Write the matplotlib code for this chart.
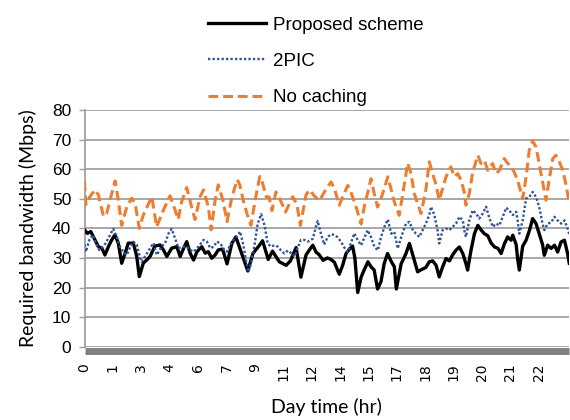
import matplotlib
matplotlib.use("Agg")
import matplotlib.pyplot as plt

# x tick labels (category axis, hours of day)
tick_labels = ["0", "1", "3", "4", "6", "7", "9", "11", "12", "14", "15",
               "17", "18", "19", "20", "21", "22"]

# No caching
nc_t = [0.00, 0.05, 0.19, 0.37, 0.49, 0.67, 0.78, 0.96, 1.08, 1.19, 1.31, 1.49,
        1.66, 1.78, 1.93, 2.07, 2.37, 2.54, 2.78, 3.01, 3.19, 3.30, 3.42, 3.60,
        3.77, 3.89, 4.07, 4.19, 4.36, 4.46, 4.60, 4.71, 4.87, 5.02, 5.19, 5.38,
        5.47, 5.59, 5.72, 5.86, 6.00, 6.17, 6.25, 6.40, 6.50, 6.60, 6.74, 6.90,
        7.08, 7.33, 7.48, 7.60, 7.80, 7.92, 8.09, 8.27, 8.44, 8.68, 8.80, 8.97,
        9.09, 9.27, 9.38, 9.56, 9.74, 9.85, 10.09, 10.20, 10.32, 10.44, 10.68,
        10.79, 10.91, 11.08, 11.20, 11.38, 11.50, 11.61, 11.73, 11.85, 12.02,
        12.14, 12.26, 12.38, 12.49, 12.61, 12.73, 12.90, 13.02, 13.14, 13.26,
        13.37, 13.43, 13.55, 13.67, 13.85, 13.96, 14.08, 14.20, 14.37, 14.49,
        14.61, 14.78, 14.90, 15.02, 15.13, 15.25, 15.43, 15.55, 15.66, 15.78,
        15.90, 16.01, 16.13, 16.25, 16.36, 16.49, 16.60, 16.72, 16.84, 16.95,
        17.05]
nc_v = [56, 48, 50.7, 53, 51.3, 44, 45, 51.8, 56, 49.6, 41, 47.3,
        50.2, 48.5, 40, 44.5, 50.7, 40.5, 46.2, 51, 46.2, 43, 49, 53.8,
        47.3, 43, 50.7, 53, 47.3, 39.5, 49.6, 54.7, 49.6, 42.3, 50.6, 56.5,
        54.6, 49.5, 45, 41, 49, 57.5, 56, 50.6, 50.6, 46, 52.3, 49.5,
        45.5, 50.7, 48, 41, 51.3, 53, 51, 49.3, 52.2, 55.7, 53.5, 47.8,
        50.6, 54.5, 52.3, 47.3, 41.5, 47.3, 56.8, 51.8, 47.2, 50, 57.4,
        53.4, 48.9, 44.4, 51.2, 62, 58.5, 51.8, 48.4, 45, 53,
        62.5, 58.5, 54.6, 49.5, 53.5, 57.4, 60.8, 57.5, 58.5, 56.3,
        52.3, 47.8, 51.8, 59, 64.7, 61.9, 63, 59.6, 61.9, 58.5,
        59.6, 63.6, 62, 60.8, 59, 56.3, 50, 57.4, 66.4, 69.5,
        67.5, 61.9, 55.7, 49.5, 56.3, 63.6, 64.7, 62.5, 59.6, 55,
        49.5]

# Proposed scheme
ps_t = [0.00, 0.10, 0.22, 0.37, 0.49, 0.61, 0.72, 0.84, 0.96, 1.07, 1.19, 1.31,
        1.43, 1.54, 1.72, 1.84, 1.93, 2.07, 2.19, 2.31, 2.48, 2.66, 2.78, 2.90,
        3.07, 3.25, 3.37, 3.49, 3.60, 3.72, 3.84, 3.96, 4.13, 4.25, 4.36, 4.48,
        4.60, 4.71, 4.86, 5.02, 5.19, 5.33, 5.45, 5.57, 5.75, 5.93, 6.16, 6.27,
        6.47, 6.62, 6.86, 7.10, 7.25, 7.45, 7.62, 7.80, 7.94, 8.04, 8.15, 8.27,
        8.40, 8.55, 8.68, 8.80, 8.97, 9.09, 9.21, 9.33, 9.44, 9.52, 9.62, 9.74,
        9.85, 9.98, 10.09, 10.20, 10.32, 10.44, 10.55, 10.67, 10.79, 10.91,
        10.98, 11.15, 11.32, 11.44, 11.56, 11.73, 11.85, 12.02, 12.14, 12.26,
        12.38, 12.49, 12.61, 12.73, 12.85, 12.96, 13.08, 13.20, 13.32, 13.43,
        13.49, 13.61, 13.73, 13.85, 13.96, 14.08, 14.20, 14.32, 14.44, 14.56,
        14.67, 14.79, 14.90, 15.02, 15.08, 15.20, 15.25, 15.31, 15.43, 15.55,
        15.67, 15.78, 15.90, 16.01, 16.13, 16.19, 16.31, 16.43, 16.55, 16.66,
        16.78, 16.90, 17.01, 17.07]
ps_v = [39.5, 38.3, 38.9, 36.1, 33.8, 33.3, 31, 33.8, 36.1, 37.8, 35, 28.2,
        31.6, 35, 35, 30.5, 23.7, 28.2, 29.3, 30.5, 34, 34.4, 32.7, 30.5,
        33.3, 33.8, 30.5, 33.3, 35.5, 31.6, 29.3, 32.1, 33.8, 31.6, 32.1, 29.9,
        31, 32.7, 33, 28, 35, 37.1, 33.8, 30.4, 25.6, 31.5, 34.3, 35.8,
        29.5, 32.3, 28.7, 27.5, 29, 33.5, 23.5, 31, 33, 34.3, 32, 31,
        29.2, 30, 29.5, 28.5, 24.5, 27.5, 31.5, 33, 34, 30, 18.3, 23.5,
        26, 28.7, 27, 25.9, 19.5, 22, 28, 31.5, 29, 27,
        19.5, 28, 31.5, 34.9, 31, 25.3, 26, 26.8, 28.7, 29,
        27.5, 23.6, 27, 29.8, 29, 31, 32.6, 33.7, 31.5, 28.1,
        25.9, 32.6, 38.2, 41, 39.5, 38.2, 37.5, 35, 33.7, 33.2,
        31.5, 34.9, 37.1, 36, 37.7, 34.5, 29.8, 25.9, 34, 36,
        39.4, 43.3, 41.6, 38.2, 34.5, 30.9, 34.3, 33.2, 34.3, 32,
        35.4, 36, 31.5, 28.2]

# 2PIC
pic_t = [0.00, 0.05, 0.17, 0.29, 0.40, 0.52, 0.64, 0.75, 0.87, 1.01, 1.13, 1.25,
         1.37, 1.49, 1.61, 1.72, 1.84, 1.96, 2.01, 2.13, 2.31, 2.43, 2.55, 2.72,
         2.84, 2.96, 3.07, 3.19, 3.31, 3.43, 3.60, 3.72, 3.84, 4.01, 4.19, 4.31,
         4.43, 4.55, 4.66, 4.78, 4.90, 5.02, 5.19, 5.36, 5.48, 5.60, 5.69, 5.77,
         5.86, 5.98, 6.10, 6.22, 6.34, 6.45, 6.57, 6.69, 6.81, 6.92, 7.04, 7.16,
         7.28, 7.40, 7.51, 7.62, 7.74, 7.86, 8.04, 8.15, 8.21, 8.33, 8.44, 8.56,
         8.68, 8.80, 8.91, 9.03, 9.15, 9.27, 9.38, 9.50, 9.62, 9.74, 9.86, 9.97,
         10.09, 10.21, 10.33, 10.44, 10.56, 10.68, 10.80, 10.91, 11.03, 11.15,
         11.32, 11.44, 11.56, 11.67, 11.79, 11.91, 12.02, 12.14, 12.20, 12.32,
         12.43, 12.49, 12.61, 12.73, 12.85, 12.96, 13.08, 13.20, 13.32, 13.37,
         13.43, 13.55, 13.67, 13.79, 13.90, 14.02, 14.14, 14.26, 14.38, 14.49,
         14.61, 14.73, 14.85, 14.96, 15.08, 15.20, 15.25, 15.31, 15.43, 15.55,
         15.66, 15.78, 15.90, 16.01, 16.13, 16.19, 16.31, 16.43, 16.55, 16.66,
         16.78, 16.90, 17.01, 17.07]
pic_v = [34.5, 32.1, 36.1, 37.8, 35, 32.7, 33.8, 35, 37.2, 39.8, 37.2, 33.8,
         32, 31, 33.8, 35.5, 34.5, 30, 28.7, 30.5, 33.3, 35, 31, 34,
         35, 38.3, 39.8, 36.5, 33.3, 33.8, 33.8, 32.7, 32.1, 33.8, 36.1, 35.5,
         33.3, 33.8, 35.5, 35, 33, 32.1, 35.5, 37.2, 38.9, 34, 29, 25.3,
         28, 34, 41.6, 44.8, 41, 34.9, 33.8, 34.3, 33.8, 32.5, 31.5, 32.5,
         31.6, 30.5, 33.5, 36.1, 36.1, 35.5, 36.5, 40.6, 42.5, 38, 34.5, 37,
         38, 37.8, 37, 35.5, 33.5, 32, 35, 38.3, 36, 34.3, 37, 39.4,
         37, 33.7, 32.6, 37, 40.5, 43, 38.2, 38.8, 33.2, 37,
         41.6, 42.2, 39.5, 38.2, 37.1, 39.5, 41.6, 44.5, 47.3, 44.5,
         39.4, 34.9, 39.4, 39.9, 39.4, 40.5, 41.6, 43.9, 42.7, 39.4,
         37.1, 42.7, 46.1, 45, 43.3, 45, 47.3, 43.3, 40.5, 41.6,
         41, 44, 47, 46, 44.5, 45.6, 42.7, 38.2, 42.7, 50.1,
         50.6, 52.3, 50.6, 47.3, 41.5, 39.4, 41.6, 42, 43.9, 42.7,
         41.6, 42.7, 40, 38]

series_names = ["Proposed scheme", "2PIC", "No caching"]

W, H = 570, 420
fig = plt.figure(figsize=(W / 100, H / 100), dpi=100)
ax = fig.add_axes([84.5 / W, 1 - 346.7 / H, (569 - 84.5) / W, (346.7 - 110) / H])

black_line, = ax.plot(ps_t, ps_v, color="black", lw=2.4, solid_joinstyle="round",
                      label=series_names[0], zorder=3)
blue_line, = ax.plot(pic_t, pic_v, color="#2F5597", lw=1.7, linestyle=(0, (1, 0.9)),
                     label=series_names[1], zorder=4)
orange_line, = ax.plot(nc_t, nc_v, color="#ED7D31", lw=2.2, linestyle=(0, (3.2, 1.6)),
                       label=series_names[2], zorder=5)

ax.set_xlim(0, 17.06)
ax.set_ylim(0, 80)
ax.set_yticks(range(0, 81, 10))
ax.set_xticks(range(len(tick_labels)))
ax.set_xticklabels(tick_labels, fontsize=12.5, family="Lato")
ax.tick_params(axis="x", length=0, pad=9, labelrotation=90)
for lab in ax.get_xticklabels():
    lab.set_verticalalignment("top")
    lab.set_horizontalalignment("center")
ax.yaxis.grid(True, color="#A0A0A0", lw=1.3)
ax.set_axisbelow(True)
for lab in ax.get_yticklabels():
    lab.set_family("Liberation Sans")
    lab.set_fontsize(12.5)
ax.tick_params(axis="y", length=4.5, width=1.0, color="#A0A0A0", pad=5,
               labelcolor="black")

for s in ["top", "right"]:
    ax.spines[s].set_visible(False)
ax.spines["left"].set_color("#A0A0A0")
ax.spines["left"].set_linewidth(1.3)
ax.spines["bottom"].set_color("#808080")
ax.spines["bottom"].set_linewidth(5)
ax.spines["bottom"].set_position(("outward", 3))
ax.spines["bottom"].set_capstyle("butt")

ax.set_xlabel("Day time (hr)", family="Lato", fontsize=14, labelpad=12)
ax.set_ylabel("Required bandwidth (Mbps)", family="Lato", fontsize=14, labelpad=11)

leg = fig.legend(handles=[black_line, blue_line, orange_line],
                 loc="upper left", bbox_to_anchor=(200 / W, 1 - 9 / H),
                 frameon=False, prop={"family": "Liberation Sans", "size": 13.5},
                 handlelength=3.1, handletextpad=0.4, labelspacing=1.02,
                 borderaxespad=0)

fig.savefig("out.png", dpi=100)
